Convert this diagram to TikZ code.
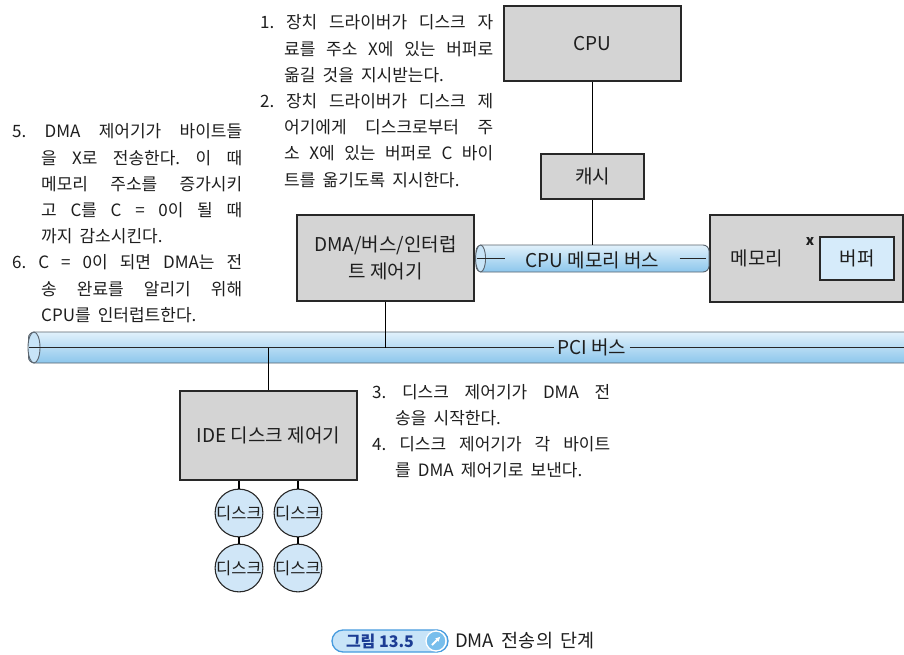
\documentclass[tikz,border=0pt]{standalone}
\usepackage{fontspec}
\setmainfont{Noto Sans CJK KR}
\usetikzlibrary{calc,arrows.meta}
\definecolor{boxgray}{RGB}{212,212,212}
\definecolor{edgegray}{RGB}{40,40,40}
\definecolor{pipetop}{RGB}{225,241,251}
\definecolor{pipebot}{RGB}{140,198,236}
\definecolor{pipeend}{RGB}{200,228,247}
\definecolor{pipeedge}{RGB}{90,100,110}
\definecolor{buffill}{RGB}{214,235,250}
\definecolor{diskfill}{RGB}{208,230,247}
\definecolor{txtcol}{RGB}{30,30,30}
\definecolor{pillfill}{RGB}{200,228,248}
\definecolor{pilledge}{RGB}{70,155,222}
\definecolor{pilltext}{RGB}{28,60,148}
\definecolor{iconfill}{RGB}{120,190,236}
\newcommand{\J}[2]{\makebox[#1][s]{#2}}
\newcommand{\widespaces}{\spaceskip=0.42em plus 0.4em minus 0.16em\relax}
\frenchspacing
\tikzset{
  box/.style={draw=edgegray, line width=1.4pt, fill=boxgray, inner sep=0pt,
    text=txtcol, font=\fontsize{19}{27}\selectfont, align=center},
  pipe/.style={draw=pipeedge, line width=0.9pt, rounded corners=6pt,
    top color=pipetop, bottom color=pipebot, inner sep=0pt},
  pipeendst/.style={draw=pipeedge, line width=0.9pt, fill=pipeend},
  wire/.style={draw=black, line width=1.2pt},
  inwire/.style={draw=black!85, line width=1pt},
  disk/.style={circle, draw=edgegray, line width=1.1pt, fill=diskfill,
    minimum size=45pt, inner sep=0pt, text=txtcol,
    font=\fontsize{16.5}{18}\selectfont},
  txt/.style={inner sep=0pt, text=txtcol, font=\fontsize{17}{26.2}\selectfont\widespaces},
  buslabel/.style={inner sep=0pt, text=txtcol, font=\fontsize{19}{22}\selectfont}
}
\begin{document}
\begin{tikzpicture}[x=1pt,y=-1pt]
\useasboundingbox (0,0) rectangle (904,655);
\fill[white] (0,0) rectangle (904,655);

% CPU and cache
\node[box, minimum width=177pt, minimum height=75pt] (cpu) at (592.5,43.5) {CPU};
\node[box, minimum width=103pt, minimum height=45pt] (cache) at (592.5,176.5) {캐시};

% memory
\node[box, minimum width=193pt, minimum height=87pt] (mem) at (806.5,258.5) {};
\node[txt, font=\fontsize{19}{22}\selectfont] (memlbl) at (757,258) {메모리};
\node[box, fill=buffill, line width=1.2pt, minimum width=74pt, minimum height=43pt] (buf) at (857,258.5) {버퍼};
\node[txt, font=\bfseries\fontsize{14}{14}\selectfont] (xlbl) at (810,242) {x};

% DMA controller
\node[box, minimum width=177pt, minimum height=86pt] (dma) at (385.5,258) {DMA/버스/인터럽\\트 제어기};

% CPU memory bus
\node[pipe, minimum width=233pt, minimum height=27pt] (cmb) at (592.5,258.5) {};
\draw[pipeendst] ($(cmb.west)+(5,0)$) ellipse [x radius=5pt, y radius=13.5pt];
\node[buslabel, inner xsep=20pt] (cmblbl) at (592.5,260) {CPU 메모리 버스};
\draw[inwire] ($(cmb.west)+(1,0)$) -- (cmblbl.west |- cmb.west);
\draw[inwire] (cmblbl.east |- cmb.east) -- ($(cmb.east)+(-3,0)$);

% PCI bus
\begin{scope}
\clip (0,0) rectangle (904,655);
\node[pipe, minimum width=900pt, minimum height=31pt, anchor=west] (pci) at (28,347.5) {};
\draw[pipeendst] ($(pci.west)+(6,0)$) ellipse [x radius=6pt, y radius=15.5pt];
\node[buslabel, inner xsep=3pt] (pcilbl) at (592,347) {PCI 버스};
\draw[inwire] ($(pci.west)+(1,0)$) -- (pcilbl.west |- pci.west);
\draw[inwire] (pcilbl.east |- pci.west) -- (pci.east |- pci.west);
\end{scope}

% IDE controller and disks
\node[box, minimum width=177pt, minimum height=89pt] (ide) at (268.5,435.5) {IDE 디스크 제어기};
\node[disk] (d1) at (239,513) {디스크};
\node[disk] (d2) at (298,513) {디스크};
\node[disk] (d3) at (239,568) {디스크};
\node[disk] (d4) at (298,568) {디스크};

% connectors
\draw[wire] (cpu.south) -- (cache.north);
\draw[wire] (cache.south) -- (cache.south |- cmb.north);
\draw[wire] (dma.south) -- (dma.south |- pci.west);
\draw[wire] (ide.north |- pci.west) -- (ide.north);
\draw[wire] (ide.south -| d1.north) -- (d1.north);
\draw[wire] (ide.south -| d2.north) -- (d2.north);
\draw[wire] (d1.south) -- (d3.north);
\draw[wire] (d2.south) -- (d4.north);

% step texts
\node[txt, anchor=base west] (steps12) at (260,29) {\parbox[t]{233pt}{\widespaces
\J{233pt}{1. 장치 드라이버가 디스크 자}\\
\hspace*{24pt}\J{209pt}{료를 주소 X에 있는 버퍼로}\\
\hspace*{24pt}옮길 것을 지시받는다.\\
\J{233pt}{2. 장치 드라이버가 디스크 제}\\
\hspace*{24pt}\J{209pt}{어기에게 디스크로부터 주}\\
\hspace*{24pt}\J{209pt}{소 X에 있는 버퍼로 C 바이}\\
\hspace*{24pt}트를 옮기도록 지시한다.}};

\node[txt, anchor=base west] (steps56) at (12,138) {\parbox[t]{230pt}{\widespaces
\J{230pt}{5. DMA 제어기가 바이트들}\\
\hspace*{29pt}\J{201pt}{을 X로 전송한다. 이 때}\\
\hspace*{29pt}\J{201pt}{메모리 주소를 증가시키}\\
\hspace*{29pt}\J{201pt}{고 C를 C = 0이 될 때}\\
\hspace*{29pt}까지 감소시킨다.\\
\J{230pt}{6. C = 0이 되면 DMA는 전}\\
\hspace*{29pt}\J{201pt}{송 완료를 알리기 위해}\\
\hspace*{29pt}CPU를 인터럽트한다.}};

\node[txt, anchor=base west] (steps34) at (372,398) {\parbox[t]{238pt}{\widespaces
\J{238pt}{3. 디스크 제어기가 DMA 전}\\
\hspace*{23pt}송을 시작한다.\\
\J{238pt}{4. 디스크 제어기가 각 바이트}\\
\hspace*{23pt}를 DMA 제어기로 보낸다.}};

% caption
\node[draw=pilledge, line width=1.3pt, fill=pillfill, rounded corners=11pt,
  minimum width=116pt, minimum height=22pt, inner sep=0pt] (pill) at (390,641) {};
\node[inner sep=0pt, text=pilltext, font=\bfseries\fontsize{16}{18}\selectfont] (fig) at (380,641) {그림 13.5};
\node[circle, draw=white, line width=1.3pt, fill=iconfill, minimum size=20pt, inner sep=0pt] (icon) at (436,641) {};
\draw[white, line width=2pt, -{Latex[length=5pt,width=5pt]}] ($(icon.center)+(-4,4)$) -- ($(icon.center)+(4.5,-4.5)$);
\node[inner sep=0pt, anchor=west, text=txtcol, font=\fontsize{18.5}{20}\selectfont\widespaces] (captxt) at (455,641) {DMA 전송의 단계};
\end{tikzpicture}
\end{document}
